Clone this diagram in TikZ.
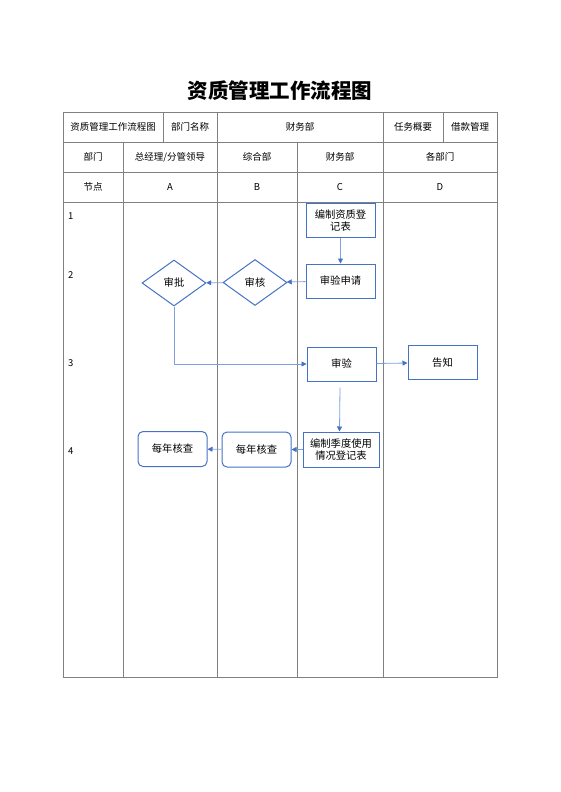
\documentclass[tikz,border=0pt]{standalone}
\usepackage{fontspec}
\setmainfont{Noto Sans CJK SC}
\usepackage{tikz}
\usetikzlibrary{shapes.geometric}
\usetikzlibrary{arrows.meta}

\definecolor{boxblue}{HTML}{4472C4}
\definecolor{lineblue}{HTML}{7FA0DC}
\definecolor{gridgray}{HTML}{808080}

\begin{document}
\begin{tikzpicture}[x=1pt,y=-1pt,%
  every node/.style={font=\fontsize{9.5}{11}\selectfont},
  cell/.style={anchor=center},
  proc/.style={draw=boxblue,line width=1pt,minimum width=69pt,minimum height=34pt,
    inner sep=1pt,align=center,font=\fontsize{10.3}{12.5}\selectfont},
  yearly/.style={proc,rounded corners=5pt,minimum height=35pt},
  check/.style={diamond,draw=boxblue,line width=1pt,minimum width=64pt,
    minimum height=46pt,inner sep=0pt,shape aspect=1.4,font=\fontsize{10.3}{12.5}\selectfont},
  flow/.style={draw=lineblue,line width=0.8pt,
    -{Triangle[length=5pt,width=5pt,color=boxblue]}}]
  \useasboundingbox (0,0) rectangle (560,792);

  % title
  \node[font=\fontsize{20.5}{24}\selectfont\bfseries] (title) at (280,91) {资质管理工作流程图};

  % grid
  \draw[gridgray,line width=0.8pt] (63,112) rectangle (497,677);
  \foreach \y in {142,172,202}
    \draw[gridgray,line width=0.8pt] (63,\y) -- (497,\y);
  \foreach \x in {217,383}
    \draw[gridgray,line width=0.8pt] (\x,112) -- (\x,677);
  \foreach \x in {123,297}
    \draw[gridgray,line width=0.8pt] (\x,142) -- (\x,677);
  \foreach \x in {163,443}
    \draw[gridgray,line width=0.8pt] (\x,112) -- (\x,142);

  % header rows
  \node[cell] (hname) at (113,127) {资质管理工作流程图};
  \node[cell] (hdept) at (190,127) {部门名称};
  \node[cell] (hfin) at (300,127) {财务部};
  \node[cell] (htask) at (413,127) {任务概要};
  \node[cell] (hloan) at (470,127) {借款管理};

  \node[cell] (dlabel) at (93,157) {部门};
  \node[cell] (dA) at (170,157) {总经理/分管领导};
  \node[cell] (dB) at (257,157) {综合部};
  \node[cell] (dC) at (340,157) {财务部};
  \node[cell] (dD) at (440,157) {各部门};

  \node[cell] (nlabel) at (93,187) {节点};
  \node[cell] (nA) at (170,187) {A};
  \node[cell] (nB) at (257,187) {B};
  \node[cell] (nC) at (340,187) {C};
  \node[cell] (nD) at (440,187) {D};

  % step numbers
  \node[anchor=west,inner sep=0pt] (s1) at (68,216) {1};
  \node[anchor=west,inner sep=0pt] (s2) at (68,275) {2};
  \node[anchor=west,inner sep=0pt] (s3) at (68,363) {3};
  \node[anchor=west,inner sep=0pt] (s4) at (68,451) {4};

  % flow
  \node[proc] (reg) at (340.5,220.5) {编制资质登\\记表};
  \node[proc] (apply) at (340.5,281) {审验申请};
  \node[check] (review) at (255,282.5) {审核};
  \node[check] (approve) at (174,283) {审批};
  \node[proc] (audit) at (341.5,364) {审验};
  \node[proc] (notify) at (442.5,362.5) {告知};
  \node[proc,minimum width=76pt,minimum height=35pt] (usage) at (341,449.5) {编制季度使用\\情况登记表};
  \node[yearly] (yearB) at (256.5,449.5) {每年核查};
  \node[yearly] (yearA) at (172.5,449) {每年核查};

  \draw[flow] (reg) -- (apply);
  \draw[flow] (apply) -- (review);
  \draw[flow] (review) -- (approve);
  \draw[flow] (approve.south) |- (audit.west);
  \draw[flow] (audit) -- (notify);
  \draw[flow] (audit.south) ++(-1.5,6) -- ([xshift=-1.5pt]usage.north);
  \draw[flow] (usage) -- (yearB);
  \draw[flow] (yearB) -- (yearA);
\end{tikzpicture}
\end{document}
